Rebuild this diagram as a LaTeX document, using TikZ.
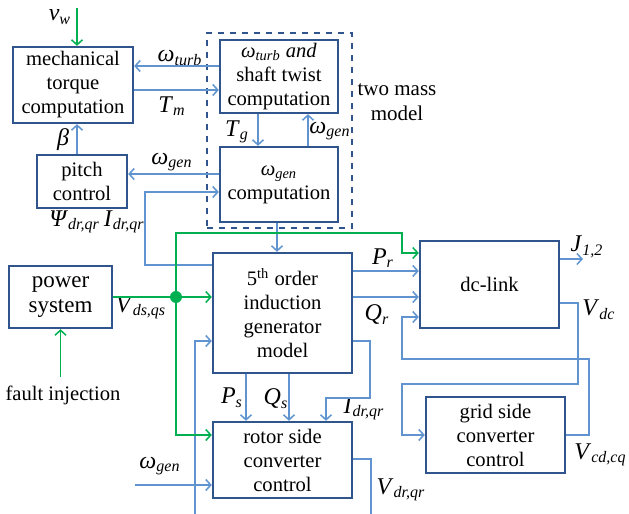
\documentclass[tikz,border=0pt]{standalone}
\usepackage{fontspec}
\setmainfont{Liberation Serif}
\usepackage{xcolor}
\usepackage{tikz}
\usetikzlibrary{
    arrows.meta,
    positioning,
    calc
}
\definecolor{boxblue}{RGB}{47,85,140}
\definecolor{lineblue}{RGB}{95,148,208}
\definecolor{sigreen}{RGB}{0,176,80}
\newcommand{\sym}[2]{\textit{#1}\textsubscript{\textit{#2}}}
\tikzset{
    block/.style={
        rectangle,
        draw=boxblue,
        line width=1.2pt,
        align=center,
        inner sep=1pt,
        font=\fontsize{10.3}{12}\selectfont
    },
    dashedbox/.style={
        rectangle,
        draw=boxblue,
        dashed,
        line width=0.7pt
    },
    conn/.style={
        draw=lineblue,
        line width=0.75pt
    },
    arrow/.style={
        conn,
        -{Straight Barb[length=2.5pt,width=5.5pt]}
    },
    gline/.style={
        draw=sigreen,
        line width=0.75pt
    },
    garrow/.style={
        gline,
        -{Straight Barb[length=2.5pt,width=5.5pt]}
    },
    gdot/.style={
        circle,
        fill=sigreen,
        inner sep=0pt,
        minimum size=6pt
    },
    lbl/.style={
        inner sep=0pt,
        font=\fontsize{12}{14}\selectfont
    }
}
\begin{document}
\begin{tikzpicture}[x=0.5pt, y=-0.5pt]
\useasboundingbox (0,0) rectangle (629,514);

% two mass model
\node[dashedbox, minimum width=72.5pt, minimum height=97.5pt] (twomass) at (279.5,130.5) {};

\node[block, minimum width=60pt, minimum height=38pt] (mech) at (73,85) {mechanical\\torque\\computation};
\node[block, minimum width=45pt, minimum height=26.5pt] (pitch) at (82,181.5) {pitch\\control};
\node[block, minimum width=59pt, minimum height=36.5pt] (turb) at (279,76.5) {\sym{ω}{turb} \textit{and}\\shaft twist\\computation};
\node[block, minimum width=59pt, minimum height=37.5pt] (gen) at (279,184.5) {\sym{ω}{gen}\\computation};
\node[block, minimum width=69.5pt, minimum height=60pt] (ind) at (282.5,313) {5\textsuperscript{th} order\\induction\\generator\\model};
\node[block, minimum width=69.5pt, minimum height=38pt] (rotor) at (282.5,460) {rotor side\\converter\\control};
\node[block, minimum width=69.5pt, minimum height=43.5pt] (dclink) at (489.5,284.5) {dc-link};
\node[block, minimum width=69.5pt, minimum height=38pt] (grid) at (495.5,435) {grid side\\converter\\control};
\node[block, minimum width=51.5pt, minimum height=31pt, font=\fontsize{11.5}{12.5}\selectfont] (power) at (60.5,297) {power\\system};
\node[gdot] (dot) at (176,297) {};

% labels
\node[lbl] (lvw) at (60,17) {\sym{v}{w}};
\node[lbl] (lwturb) at (180,58) {\sym{ω}{turb}};
\node[lbl] (ltm) at (172,106) {\sym{T}{m}};
\node[lbl] (lbeta) at (63,140) {\textit{β}};
\node[lbl] (lwgen1) at (172,162) {\sym{ω}{gen}};
\node[lbl] (lpsi) at (97,222) {\sym{Ψ}{dr,qr}\,\sym{I}{dr,qr}};
\node[lbl] (ltg) at (237,132) {\sym{T}{g}};
\node[lbl] (lwgen2) at (330,131) {\sym{ω}{gen}};
\node[align=center, font=\fontsize{10.5}{12.5}\selectfont] (lmass) at (397,102) {two mass\\model};
\node[lbl] (lvds) at (141,308) {\sym{V}{ds,qs}};
\node[inner sep=4pt, font=\fontsize{10.3}{12}\selectfont] (fault) at (63,395) {fault injection};
\node[lbl] (lpr) at (383,258) {\sym{P}{r}};
\node[lbl] (lqr) at (377,315) {\sym{Q}{r}};
\node[lbl] (lj) at (587,247) {\sym{J}{1,2}};
\node[lbl] (lvdc) at (599,310) {\sym{V}{dc}};
\node[lbl] (lps) at (232,398) {\sym{P}{s}};
\node[lbl] (lqs) at (276,399) {\sym{Q}{s}};
\node[lbl] (lidr) at (364,409) {\sym{I}{dr,qr}};
\node[lbl] (lwgen3) at (160,466) {\sym{ω}{gen}};
\node[lbl] (lvdr) at (401,490) {\sym{V}{dr,qr}};
\node[lbl, anchor=east] (lvcd) at (627,455) {\sym{V}{cd,cq}};

% free ends
\coordinate (vwin) at (77,8);
\coordinate (jout) at (583,259);
\coordinate (wgin) at (135,485);
\coordinate (vrbot) at (371,514);
\coordinate (fbbot) at (195,514);

% turbine side
\draw[arrow] (turb.west |- 0,66) -- (mech.east |- 0,66);
\draw[arrow] (mech.east |- 0,90) -- (turb.west |- 0,90);
\draw[arrow] (pitch.north -| 77,0) -- (mech.south -| 77,0);
\draw[arrow] (gen.west |- 0,174) -- (pitch.east |- 0,174);
\draw[arrow] (ind.west |- 0,265) -| (145,192) -- (gen.west |- 0,192);
\draw[arrow] (turb.south -| 258,0) -- (gen.north -| 258,0);
\draw[arrow] (gen.north -| 308,0) -- (turb.south -| 308,0);
\draw[arrow] (gen.south -| 277,0) -- (ind.north -| 277,0);

% generator and converters
\draw[arrow] (ind.east |- 0,271) -- (dclink.west |- 0,271);
\draw[arrow] (ind.east |- 0,297) -- (dclink.west |- 0,297);
\draw[arrow] (dclink.east |- 0,259) -- (jout);
\draw[arrow] (dclink.east |- 0,303) -| (578,384) -| (402,435) -- (grid.west);
\draw[arrow] (grid.east) -| (589,359) -| (402,317) -- (dclink.west |- 0,317);
\draw[arrow] (ind.south -| 246,0) -- (rotor.north -| 246,0);
\draw[arrow] (ind.south -| 289,0) -- (rotor.north -| 289,0);
\draw[arrow] (ind.east |- 0,341) -| (370,398) -| (rotor.north -| 326,0);
\draw[arrow] (wgin) -- (rotor.west |- wgin);
\draw[conn] (rotor.east |- 0,459) -| (vrbot);
\draw[arrow] (fbbot) |- (ind.west |- 0,341);

% grid voltage and fault
\draw[garrow] (vwin) -- (mech.north -| vwin);
\draw[garrow] (power.south |- fault.north) -- (power.south);
\draw[gline] (power.east) -- (dot);
\draw[garrow] (dot) -- (ind.west |- dot);
\draw[garrow] (dot) |- (rotor.west |- 0,435);
\draw[garrow] (dot) -- (dot |- 0,233) -| (402,253) -- (dclink.west |- 0,253);
\end{tikzpicture}
\end{document}
